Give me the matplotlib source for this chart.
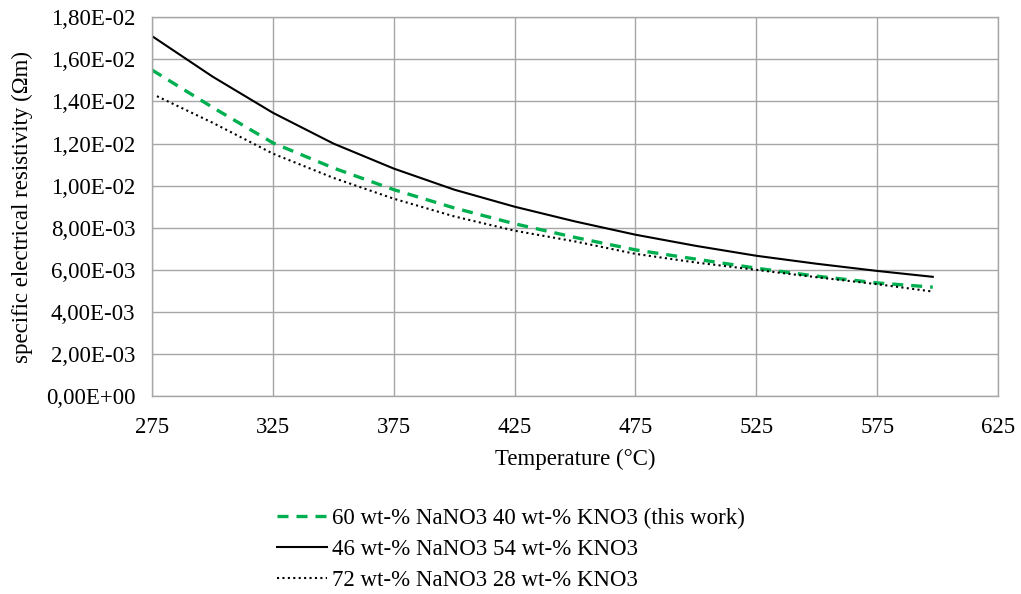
import numpy as np
import matplotlib.pyplot as plt
from matplotlib.ticker import FuncFormatter

plt.rcParams['font.family'] = ['Liberation Serif', 'DejaVu Serif']

# temperatures (°C) and specific electrical resistivity (Ohm m)
t_main = [275, 300, 325, 350, 375, 400, 425, 450, 475, 500, 525, 550, 575, 598]
rho_60_40 = [0.01549, 0.01372, 0.01203, 0.01084, 0.00981, 0.00894, 0.00819,
             0.00754, 0.00695, 0.00651, 0.00608, 0.00570, 0.00538, 0.00518]
rho_46_54 = [0.01710, 0.01518, 0.01346, 0.01200, 0.01081, 0.00981, 0.00900,
             0.00830, 0.00767, 0.00714, 0.00667, 0.00629, 0.00595, 0.00567]
t_72 = [277, 300, 325, 350, 375, 400, 425, 450, 475, 500, 525, 550, 575, 598]
rho_72_28 = [0.01425, 0.01299, 0.01152, 0.01037, 0.00938, 0.00854, 0.00786,
             0.00735, 0.00676, 0.00635, 0.00600, 0.00565, 0.00532, 0.00497]

labels = ["60 wt-% NaNO3 40 wt-% KNO3 (this work)",
          "46 wt-% NaNO3 54 wt-% KNO3",
          "72 wt-% NaNO3 28 wt-% KNO3"]

fs = 16.5

fig = plt.figure(figsize=(10.21, 5.94), dpi=100)
ax = fig.add_axes([0.149, 0.333, 0.8285, 0.638])

ax.plot(t_main, rho_60_40, color='#00b050', lw=2.4, ls=(0, (3.3, 2.4)), label=labels[0])
ax.plot(t_main, rho_46_54, color='black', lw=1.5, label=labels[1])
ax.plot(t_72, rho_72_28, color='black', lw=1.5, ls=(0, (1, 1.6)), label=labels[2])

ax.set_xlim(275, 625)
ax.set_ylim(0, 0.018)
ax.set_xticks(np.arange(275, 626, 50))
ax.set_yticks(np.arange(0, 0.0181, 0.002))
ax.yaxis.set_major_formatter(FuncFormatter(lambda v, p: f"{v:.2E}".replace('.', ',')))
ax.grid(True, color='#a6a6a6', lw=1.0)
ax.set_axisbelow(True)
for s in ax.spines.values():
    s.set_color('#a6a6a6')
    s.set_linewidth(1.0)
ax.tick_params(length=0, labelsize=fs, colors='black')
ax.tick_params(axis='y', pad=12)
ax.tick_params(axis='x', pad=15)

ax.set_xlabel("Temperature (°C)", fontsize=fs, labelpad=8)
ax.set_ylabel("specific electrical resistivity (Ωm)", fontsize=fs, labelpad=9)

fig.legend(loc='center', bbox_to_anchor=(0.5, 0.075), frameon=False, fontsize=fs,
           handlelength=2.2, handletextpad=0.2, labelspacing=0.45)

fig.savefig("out.png", dpi=100)
